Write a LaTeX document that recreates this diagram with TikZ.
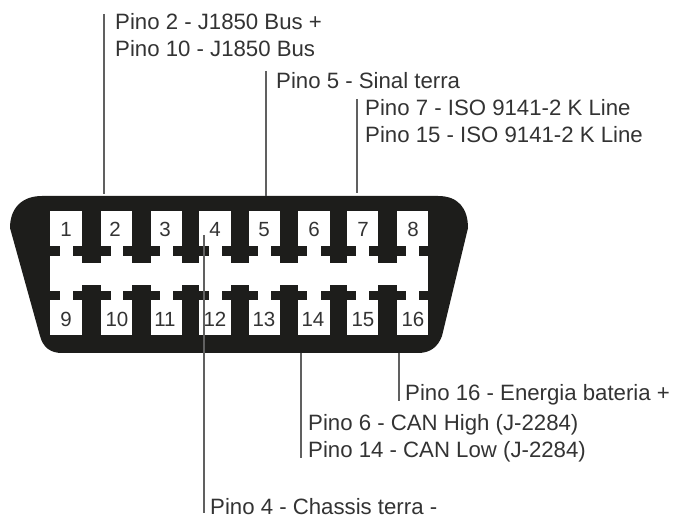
\documentclass[tikz,border=0pt]{standalone}
\usepackage{fontspec}
\setmainfont{Liberation Sans}
\definecolor{body}{HTML}{1D1D1B}
\definecolor{ink}{HTML}{333333}
\definecolor{wire}{HTML}{606060}
\tikzset{
  pinlabel/.style={anchor=base west,inner sep=0pt,text=ink,font=\fontsize{22.2}{24}\selectfont},
  pinnum/.style={anchor=base,inner sep=0pt,text=ink,font=\fontsize{20.5}{22}\selectfont},
  wireline/.style={draw=wire,line width=1.2pt},
  blackpart/.style={fill=body,draw=none}
}
\begin{document}
\begin{tikzpicture}[x=1pt,y=-1pt]
\useasboundingbox (0,0) rectangle (673,518);
% connector body
\fill[body] (42,196) -- (438,196) .. controls (458,196) and (468,208) .. (468,228)
  -- (442,336) .. controls (438,347) and (430,353) .. (418,353)
  -- (62,353) .. controls (50,353) and (43,347) .. (40,336)
  -- (10,228) .. controls (10,208) and (22,196) .. (42,196) -- cycle;
\fill[white] (50,211) rectangle (428,335);
% stems and tabs
\foreach \a/\b in {82/101,132/151,182/199,231/249,280/298,330/347,378/397}{
  \fill[blackpart] (\a,205) rectangle (\b,263);
  \fill[blackpart] (\a,285) rectangle (\b,340);
}
\foreach \a/\b in {50/60,73/111,123/160,173/209,222/258,271/307,321/356,369/406,419/428}{
  \fill[blackpart] (\a,246) rectangle (\b,256);
  \fill[blackpart] (\a,291) rectangle (\b,300);
}
% pin numbers
\foreach \n/\x in {1/66,2/115,3/165,4/215,5/264,6/314,7/363,8/413}
  \node[pinnum] (num\n) at (\x,237) {\n};
\foreach \n/\x in {9/66,10/117,11/165,12/215,13/264,14/313,15/363,16/413}
  \node[pinnum] (num\n) at (\x,327) {\n};
% labels
\node[pinlabel] (p2) at (115,30) {Pino 2 - J1850 Bus +};
\node[pinlabel] (p10) at (115,57) {Pino 10 - J1850 Bus};
\node[pinlabel] (p5) at (276,89) {Pino 5 - Sinal terra};
\node[pinlabel] (p7) at (365,116) {Pino 7 - ISO 9141-2 K Line};
\node[pinlabel] (p15) at (365,143) {Pino 15 - ISO 9141-2 K Line};
\node[pinlabel] (p16) at (405,401) {Pino 16 - Energia bateria +};
\node[pinlabel] (p6) at (308,431) {Pino 6 - CAN High (J-2284)};
\node[pinlabel] (p14) at (308,458) {Pino 14 - CAN Low (J-2284)};
\node[pinlabel] (p4) at (210,514.5) {Pino 4 - Chassis terra -};
% wire ends
\coordinate (w2a) at (104,14); \coordinate (w2b) at (104,194);
\coordinate (w5a) at (266,71); \coordinate (w5b) at (266,196);
\coordinate (w7a) at (357,99); \coordinate (w7b) at (357,193);
\coordinate (w4a) at (204,235); \coordinate (w4b) at (204,513);
\coordinate (w14a) at (301,353); \coordinate (w14b) at (301,458);
\coordinate (w16a) at (399,353); \coordinate (w16b) at (399,401);
\draw[wireline] (w2a) -- (w2b);
\draw[wireline] (w5a) -- (w5b);
\draw[wireline] (w7a) -- (w7b);
\draw[wireline] (w4a) -- (w4b);
\draw[wireline] (w14a) -- (w14b);
\draw[wireline] (w16a) -- (w16b);
\end{tikzpicture}
\end{document}
